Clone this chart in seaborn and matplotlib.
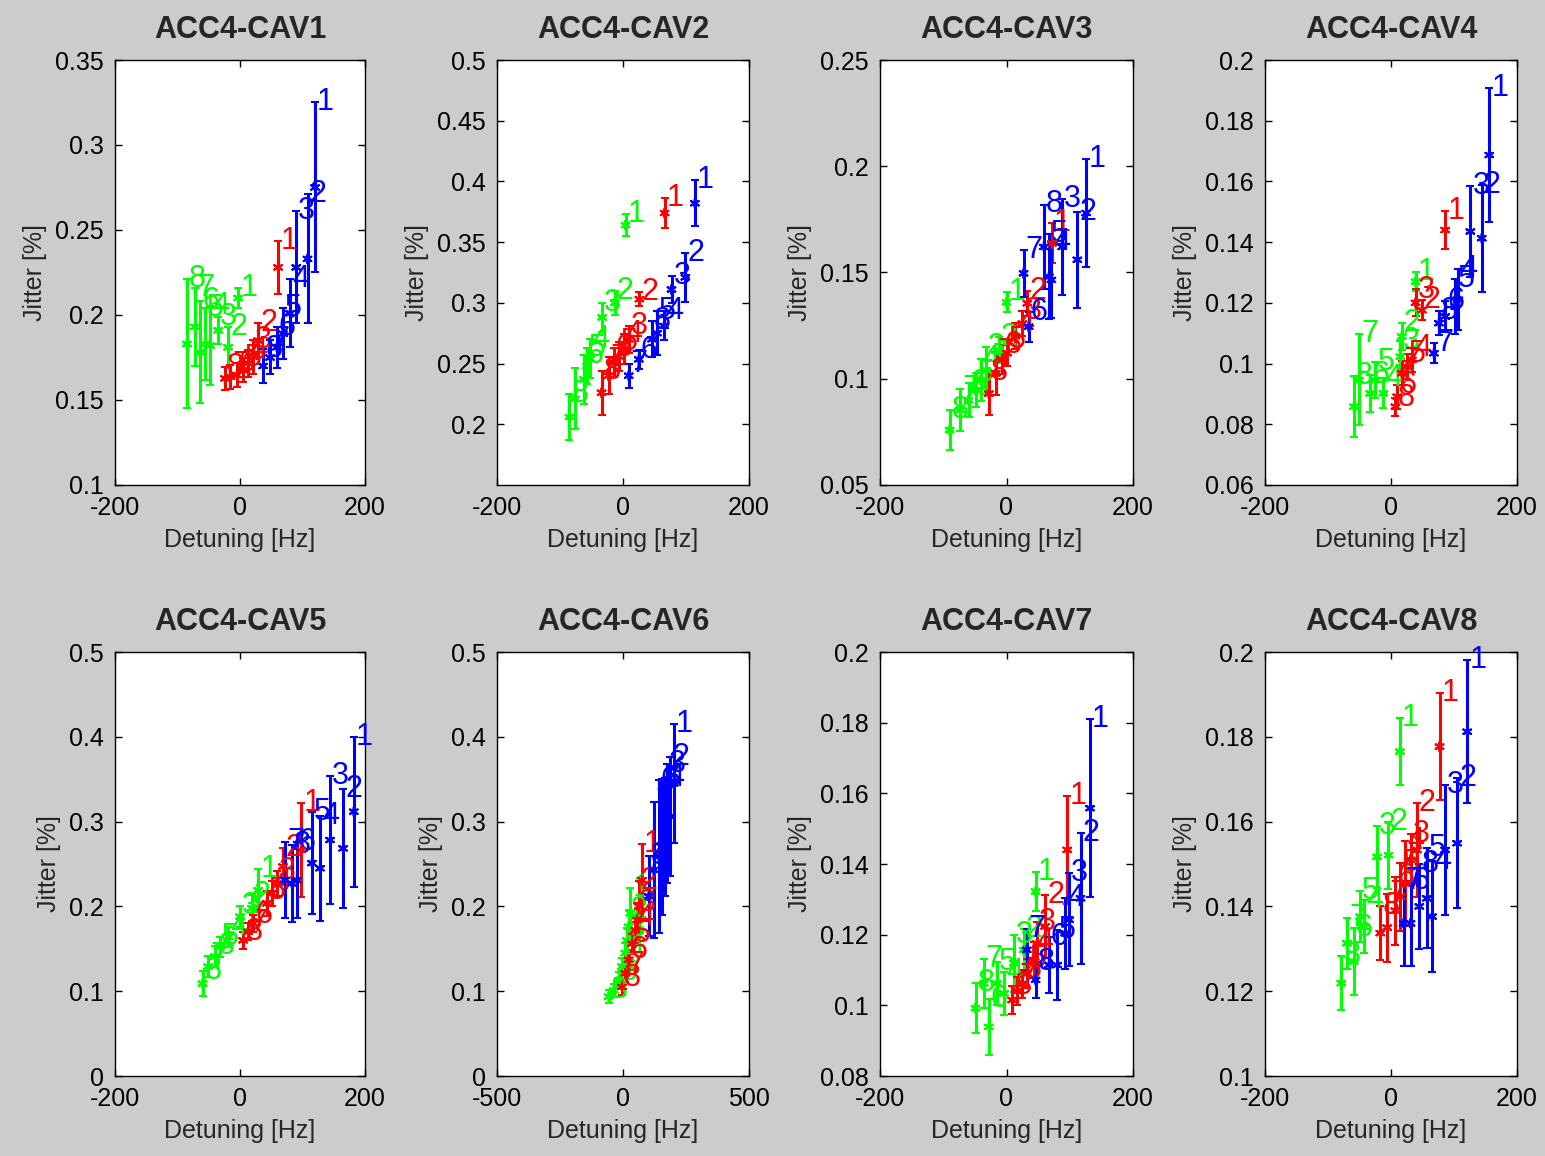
import numpy as np
import pandas as pd
import matplotlib
matplotlib.use("Agg")
import matplotlib.pyplot as plt
import seaborn as sns
from matplotlib.ticker import FuncFormatter

# ---------------- data ----------------
titles = ["ACC4-CAV1", "ACC4-CAV2", "ACC4-CAV3", "ACC4-CAV4",
          "ACC4-CAV5", "ACC4-CAV6", "ACC4-CAV7", "ACC4-CAV8"]
point_labels = ["1", "2", "3", "4", "5", "6", "7", "8"]

# CAV1
cav1_green_x = [-3, -19, -35, -48, -56, -64, -72, -85]
cav1_green_y = [0.210, 0.181, 0.191, 0.182, 0.183, 0.178, 0.193, 0.183]
cav1_green_e = [0.006, 0.012, 0.008, 0.023, 0.021, 0.030, 0.023, 0.038]
cav1_red_x = [61, 29, 21, 13, 5, -5, -16, -24]
cav1_red_y = [0.228, 0.185, 0.1755, 0.1716, 0.1676, 0.1647, 0.1637, 0.1627]
cav1_red_e = [0.0157, 0.010, 0.010, 0.008, 0.007, 0.007, 0.007, 0.007]
cav1_blue_x = [120, 108, 90, 80, 69, 59, 48, 37]
cav1_blue_y = [0.275, 0.233, 0.228, 0.201, 0.189, 0.181, 0.175, 0.170]
cav1_blue_e = [0.050, 0.038, 0.033, 0.020, 0.015, 0.012, 0.010, 0.010]

# CAV2
cav2_green_x = [4, -13, -33, -52, -57, -62, -76, -85]
cav2_green_y = [0.364, 0.300, 0.288, 0.254, 0.248, 0.237, 0.221, 0.206]
cav2_green_e = [0.009, 0.010, 0.012, 0.016, 0.015, 0.020, 0.025, 0.019]
cav2_red_x = [66, 26, 9, 1, -7, -15, -23, -34]
cav2_red_y = [0.374, 0.303, 0.270, 0.262, 0.256, 0.251, 0.240, 0.226]
cav2_red_e = [0.012, 0.006, 0.011, 0.012, 0.012, 0.012, 0.015, 0.018]
cav2_blue_x = [114, 99, 77, 65, 54, 25, 9, 46]
cav2_blue_y = [0.382, 0.321, 0.311, 0.281, 0.275, 0.2535, 0.240, 0.270]
cav2_blue_e = [0.019, 0.020, 0.011, 0.012, 0.018, 0.008, 0.010, 0.015]

# CAV3
cav3_green_x = [0, -12, -32, -41, -49, -60, -73, -90]
cav3_green_y = [0.136, 0.1135, 0.104, 0.0994, 0.0947, 0.090, 0.0853, 0.0759]
cav3_green_e = [0.0047, 0.006, 0.011, 0.010, 0.008, 0.008, 0.010, 0.0094]
cav3_red_x = [72, 33, 25, 14, 1, -7, -17, -28]
cav3_red_y = [0.1637, 0.1355, 0.126, 0.120, 0.112, 0.109, 0.1025, 0.093]
cav3_red_e = [0.0094, 0.006, 0.006, 0.006, 0.006, 0.007, 0.010, 0.010]
cav3_blue_x = [126, 112, 88, 71, 67, 35, 27, 59]
cav3_blue_y = [0.178, 0.156, 0.162, 0.1465, 0.148, 0.1245, 0.1496, 0.162]
cav3_blue_e = [0.0255, 0.0227, 0.0224, 0.018, 0.020, 0.007, 0.011, 0.020]

# CAV4
cav4_green_x = [39, 17, 15, -12, -25, -33, -51, -59]
cav4_green_y = [0.127, 0.1089, 0.1023, 0.0902, 0.0946, 0.0902, 0.0946, 0.0858]
cav4_green_e = [0.003, 0.0044, 0.005, 0.005, 0.006, 0.006, 0.015, 0.010]
cav4_red_x = [86, 49, 39, 33, 25, 10, 17, 7]
cav4_red_y = [0.144, 0.1176, 0.120, 0.1012, 0.099, 0.0891, 0.0968, 0.0858]
cav4_red_e = [0.0063, 0.0033, 0.0044, 0.004, 0.004, 0.004, 0.004, 0.003]
cav4_blue_x = [156, 144, 126, 107, 102, 86, 68, 76]
cav4_blue_y = [0.1687, 0.1413, 0.1435, 0.121, 0.1187, 0.1155, 0.1034, 0.1133]
cav4_blue_e = [0.0222, 0.0176, 0.015, 0.010, 0.009, 0.005, 0.0033, 0.004]

# CAV5
cav5_green_x = [29, 19, 0, -19, -32, -40, -51, -60]
cav5_green_y = [0.219, 0.198, 0.188, 0.164, 0.1525, 0.141, 0.129, 0.109]
cav5_green_e = [0.0255, 0.015, 0.012, 0.012, 0.012, 0.012, 0.012, 0.015]
cav5_red_x = [98, 69, 59, 51, 43, 21, 13, 5]
cav5_red_y = [0.2665, 0.247, 0.227, 0.2155, 0.2036, 0.180, 0.170, 0.160]
cav5_red_e = [0.055, 0.022, 0.015, 0.015, 0.015, 0.010, 0.010, 0.010]
cav5_blue_x = [182, 165, 144, 128, 115, 91, 72, 83]
cav5_blue_y = [0.3117, 0.2685, 0.2783, 0.245, 0.251, 0.231, 0.231, 0.227]
cav5_blue_e = [0.0884, 0.070, 0.0757, 0.062, 0.060, 0.045, 0.045, 0.045]

# CAV6
cav6_green_x = [29, 22, 16, 9, -4, -17, -37, -57]
cav6_green_y = [0.192, 0.176, 0.160, 0.145, 0.129, 0.113, 0.101, 0.0936]
cav6_green_e = [0.030, 0.020, 0.015, 0.012, 0.010, 0.010, 0.008, 0.008]
cav6_red_x = [75, 62, 56, 49, 36, 22, 9, -4]
cav6_red_y = [0.231, 0.200, 0.184, 0.172, 0.156, 0.137, 0.121, 0.105]
cav6_red_e = [0.043, 0.030, 0.020, 0.015, 0.012, 0.012, 0.010, 0.010]
cav6_blue_x = [201, 188, 175, 168, 155, 142, 122, 102]
cav6_blue_y = [0.345, 0.306, 0.298, 0.282, 0.270, 0.259, 0.243, 0.212]
cav6_blue_e = [0.070, 0.070, 0.070, 0.070, 0.080, 0.090, 0.080, 0.047]

# CAV7
cav7_green_x = [46, 27, 12, -4, -15, -28, -36, -49]
cav7_green_y = [0.1322, 0.1157, 0.1119, 0.1034, 0.1062, 0.0939, 0.1062, 0.0992]
cav7_green_e = [0.0054, 0.006, 0.008, 0.006, 0.006, 0.008, 0.007, 0.007]
cav7_red_x = [96, 61, 48, 43, 33, 25, 17, 9]
cav7_red_y = [0.144, 0.1223, 0.1175, 0.1128, 0.109, 0.106, 0.104, 0.1015]
cav7_red_e = [0.0153, 0.009, 0.006, 0.005, 0.004, 0.004, 0.004, 0.004]
cav7_blue_x = [132, 117, 99, 93, 80, 67, 32, 46]
cav7_blue_y = [0.1558, 0.1303, 0.1242, 0.1204, 0.1114, 0.1114, 0.1157, 0.1072]
cav7_blue_e = [0.0252, 0.0186, 0.0132, 0.010, 0.010, 0.008, 0.006, 0.005]

# CAV8
cav8_green_x = [14, -4, -22, -43, -49, -59, -70, -79]
cav8_green_y = [0.1765, 0.1521, 0.1517, 0.1352, 0.1376, 0.127, 0.1313, 0.1219]
cav8_green_e = [0.0079, 0.0079, 0.0073, 0.0063, 0.006, 0.008, 0.006, 0.0063]
cav8_red_x = [77, 41, 31, 23, 15, 7, -6, -17]
cav8_red_y = [0.1777, 0.1533, 0.151, 0.1454, 0.1423, 0.139, 0.135, 0.1337]
cav8_red_e = [0.0126, 0.011, 0.006, 0.010, 0.008, 0.008, 0.008, 0.0063]
cav8_blue_x = [121, 105, 86, 65, 57, 31, 20, 45]
cav8_blue_y = [0.1812, 0.1549, 0.1533, 0.1376, 0.1419, 0.136, 0.136, 0.140]
cav8_blue_e = [0.0169, 0.0153, 0.0153, 0.013, 0.0118, 0.010, 0.010, 0.010]

# axis limits / ticks
x_limits = [(-200, 200)] * 5 + [(-500, 500)] + [(-200, 200)] * 2
y_limits = [(0.1, 0.35), (0.15, 0.5), (0.05, 0.25), (0.06, 0.2),
            (0.0, 0.5), (0.0, 0.5), (0.08, 0.2), (0.1, 0.2)]
y_tick_sets = [
    [0.1, 0.15, 0.2, 0.25, 0.3, 0.35],
    [0.2, 0.25, 0.3, 0.35, 0.4, 0.45, 0.5],
    [0.05, 0.1, 0.15, 0.2, 0.25],
    [0.06, 0.08, 0.1, 0.12, 0.14, 0.16, 0.18, 0.2],
    [0, 0.1, 0.2, 0.3, 0.4, 0.5],
    [0, 0.1, 0.2, 0.3, 0.4, 0.5],
    [0.08, 0.1, 0.12, 0.14, 0.16, 0.18, 0.2],
    [0.1, 0.12, 0.14, 0.16, 0.18, 0.2],
]

series_order = ["green", "red", "blue"]
palette = {"green": "#00ff00", "red": "#ff0000", "blue": "#0000ff"}

# ---------------- build table ----------------
g = globals()
rows = []
for p in range(8):
    for s in series_order:
        xs = g[f"cav{p+1}_{s}_x"]
        ys = g[f"cav{p+1}_{s}_y"]
        es = g[f"cav{p+1}_{s}_e"]
        for i, (xv, yv, ev) in enumerate(zip(xs, ys, es)):
            rows.append(dict(panel=p, series=s, label=point_labels[i],
                             x=xv, y=yv, err=ev))
df = pd.DataFrame(rows)

# ---------------- style ----------------
sns.set_theme(style="ticks")
plt.rcParams["font.family"] = ["Liberation Sans", "DejaVu Sans"]
plt.rcParams["axes.linewidth"] = 1.0

fig = plt.figure(figsize=(15.45, 11.56), dpi=100)
fig.patch.set_facecolor("#cccccc")

W, H = 1545.0, 1156.0
lefts = [115, 497, 880, 1265]
widths = [250, 252, 253, 252]
tops = [60, 652]
heights = [425, 424]

fmt = FuncFormatter(lambda v, pos: f"{v:g}")

for p in range(8):
    r, c = divmod(p, 4)
    ax = fig.add_axes([lefts[c] / W, 1 - (tops[r] + heights[r]) / H,
                       widths[c] / W, heights[r] / H])
    ax.set_facecolor("white")
    sub = df[df.panel == p]
    for s in series_order:
        d = sub[sub.series == s]
        ax.errorbar(d.x, d.y, yerr=d.err, fmt="none", ecolor=palette[s],
                    elinewidth=2.2, capsize=3, capthick=1.5, zorder=2)
        for _, row in d.iterrows():
            ax.annotate(row.label, (row.x, row.y + row.err), xytext=(1.5, 0),
                        textcoords="offset points", ha="left", va="center",
                        color=palette[s], fontsize=22, zorder=3)
    sns.scatterplot(data=sub, x="x", y="y", hue="series", palette=palette,
                    hue_order=series_order, marker=(6, 2, 0), s=40,
                    linewidth=1.5, legend=False, ax=ax, zorder=4)
    ax.set_xlim(*x_limits[p])
    ax.set_ylim(*y_limits[p])
    xl = x_limits[p]
    ax.set_xticks([xl[0], 0, xl[1]])
    ax.set_yticks(y_tick_sets[p])
    ax.xaxis.set_major_formatter(fmt)
    ax.yaxis.set_major_formatter(fmt)
    ax.tick_params(direction="in", length=5, width=1, top=True, right=True,
                   labelsize=18, colors="black", pad=8)
    for sp in ax.spines.values():
        sp.set_visible(True)
        sp.set_color("black")
    ax.set_xlabel("Detuning [Hz]", fontsize=18, labelpad=6)
    ax.set_ylabel("Jitter [%]", fontsize=18, labelpad=6)
    ax.set_title(titles[p], fontsize=22, fontweight="bold", pad=16)

fig.savefig("out.png", dpi=100, facecolor=fig.get_facecolor())
